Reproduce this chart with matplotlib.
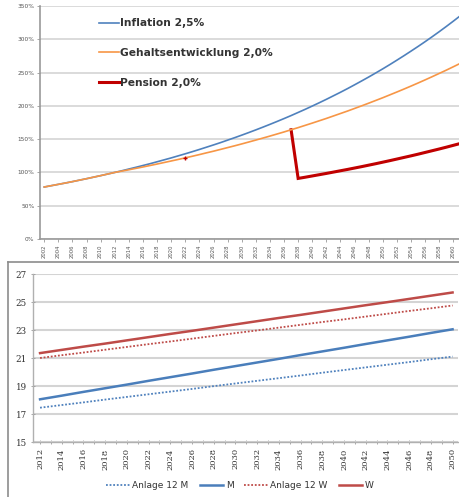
import matplotlib
matplotlib.use('Agg')
import matplotlib.pyplot as plt
from matplotlib.lines import Line2D

# --- top chart: index 2012 = 100 %
years_top = list(range(2002, 2063))
inflation = [78.1, 80.1, 82.1, 84.1, 86.2, 88.4, 90.6, 92.9, 95.2, 97.6,
             100.0, 102.5, 105.1, 107.7, 110.4, 113.1, 116.0, 118.9, 121.8, 124.9,
             128.0, 131.2, 134.5, 137.9, 141.3, 144.8, 148.5, 152.2, 156.0, 159.9,
             163.9, 168.0, 172.2, 176.5, 180.9, 185.4, 190.1, 194.8, 199.7, 204.7,
             209.8, 215.1, 220.4, 225.9, 231.6, 237.4, 243.3, 249.4, 255.6, 262.0,
             268.6, 275.3, 282.2, 289.2, 296.4, 303.8, 311.4, 319.2, 327.2, 335.4,
             343.7]
gehalt = [78.1, 80.1, 82.1, 84.1, 86.2, 88.4, 90.6, 92.9, 95.2, 97.6,
          100.0, 102.0, 104.0, 106.1, 108.2, 110.4, 112.6, 114.9, 117.2, 119.5,
          121.9, 124.3, 126.8, 129.4, 131.9, 134.6, 137.3, 140.0, 142.8, 145.7,
          148.6, 151.6, 154.6, 157.7, 160.8, 164.1, 167.3, 170.7, 174.1, 177.6,
          181.1, 184.8, 188.5, 192.2, 196.1, 200.0, 204.0, 208.1, 212.2, 216.5,
          220.8, 225.2, 229.7, 234.3, 239.0, 243.8, 248.7, 253.6, 258.7, 263.9,
          269.2]
years_pension = list(range(2037, 2063))
pension = [164.1, 91.0, 92.8, 94.7, 96.6, 98.5, 100.5, 102.5, 104.5, 106.6,
           108.7, 110.9, 113.1, 115.4, 117.7, 120.1, 122.5, 124.9, 127.4, 130.0,
           132.6, 135.2, 137.9, 140.7, 143.5, 146.4]
pension_mark_year = 2022
pension_mark_value = 121.9

# --- bottom chart
years_bot = list(range(2012, 2051, 2))
anlage_m = [17.45, 17.64, 17.83, 18.03, 18.22, 18.41, 18.60, 18.79, 18.99, 19.18,
            19.37, 19.56, 19.75, 19.95, 20.14, 20.33, 20.52, 20.71, 20.91, 21.10]
m_vals = [18.05, 18.31, 18.58, 18.84, 19.10, 19.37, 19.63, 19.89, 20.16, 20.42,
          20.68, 20.94, 21.21, 21.47, 21.73, 22.00, 22.26, 22.52, 22.79, 23.05]
anlage_w = [21.00, 21.20, 21.39, 21.59, 21.79, 21.99, 22.18, 22.38, 22.58, 22.78,
            22.97, 23.17, 23.37, 23.57, 23.76, 23.96, 24.16, 24.36, 24.55, 24.75]
w_vals = [21.35, 21.58, 21.81, 22.03, 22.26, 22.49, 22.72, 22.94, 23.17, 23.40,
          23.63, 23.86, 24.08, 24.31, 24.54, 24.77, 24.99, 25.22, 25.45, 25.68]

W, H = 460, 497
fig = plt.figure(figsize=(W / 100, H / 100), dpi=100)
plt.rcParams['font.family'] = ['DejaVu Sans']

# ---------------- top chart
ax1 = fig.add_axes([40 / W, 1 - 239 / H, 1 - 40 / W, (239 - 6) / H])
ax1.set_ylim(0, 350)
ax1.set_xlim(2001.4, 2060.95)
ax1.set_yticks(range(0, 351, 50))
ax1.set_yticklabels([f'{v}%' for v in range(0, 351, 50)], fontsize=4.2, color='#555555')
ax1.set_xticks(range(2002, 2061, 2))
ax1.set_xticklabels([str(y) for y in range(2002, 2061, 2)], rotation=90,
                    fontsize=3.8, color='#555555')
ax1.grid(axis='y', color='#d4d4d4', lw=1.2)
ax1.set_axisbelow(True)
for s in ['top', 'right']:
    ax1.spines[s].set_visible(False)
for s in ['left', 'bottom']:
    ax1.spines[s].set_color('#999999')
    ax1.spines[s].set_linewidth(1.2)
ax1.tick_params(axis='both', length=2, width=0.6, color='#999999', pad=2)

ax1.plot(years_pension, pension, color='#c00000', lw=2.2, solid_joinstyle='miter')
ax1.plot(years_top, inflation, color='#4f81bd', lw=1.2)
ax1.plot(years_top, gehalt, color='#f79646', lw=1.2)
ax1.plot([pension_mark_year], [pension_mark_value], marker='+', color='#c00000',
         ms=3.5, mew=1.0)

handles = [Line2D([], [], color='#4f81bd', lw=1.2),
           Line2D([], [], color='#f79646', lw=1.2),
           Line2D([], [], color='#c00000', lw=2.2)]
leg = ax1.legend(handles, ['Inflation 2,5%', 'Gehaltsentwicklung 2,0%', 'Pension 2,0%'],
                 loc='upper left', bbox_to_anchor=(94 / W, 1 - 13 / H),
                 bbox_transform=fig.transFigure, frameon=False, fontsize=7.7,
                 handlelength=1.8, handletextpad=0.1, labelspacing=1.85,
                 borderpad=0)
for t in leg.get_texts():
    t.set_color('#333333')
    t.set_fontweight('semibold')

# ---------------- bottom chart border
fig.add_artist(Line2D([8 / W, 1], [1 - 262 / H] * 2, color='#8c8c8c', lw=1.2,
                      transform=fig.transFigure))
fig.add_artist(Line2D([8 / W] * 2, [0, 1 - 262 / H], color='#8c8c8c', lw=1.2,
                      transform=fig.transFigure))

ax2 = fig.add_axes([33 / W, 1 - 442 / H, (458 - 33) / W, (442 - 274) / H])
ax2.set_ylim(15, 27)
ax2.set_xlim(2011.35, 2050.5)
ax2.set_yticks(range(15, 28, 2))
ax2.set_xticks(range(2012, 2051, 2))
ax2.set_xticks(range(2013, 2051, 2), minor=True)
ax2.set_yticklabels([str(v) for v in range(15, 28, 2)], fontsize=6.3,
                    family='DejaVu Serif', color='#333333')
ax2.set_xticklabels([str(y) for y in range(2012, 2051, 2)], rotation=90,
                    fontsize=6.0, family='DejaVu Serif', color='#333333')
ax2.grid(axis='y', color='#d4d4d4', lw=1.5)
ax2.set_axisbelow(True)
for s in ['top', 'right']:
    ax2.spines[s].set_visible(False)
for s in ['left', 'bottom']:
    ax2.spines[s].set_color('#b0b0b0')
    ax2.spines[s].set_linewidth(1.0)
ax2.tick_params(axis='both', which='both', direction='inout', length=3, width=0.6,
                color='#999999', pad=3)

ax2.plot(years_bot, anlage_m, color='#4f81bd', lw=1.3, ls=(0, (1, 1)))
ax2.plot(years_bot, m_vals, color='#4a7ebb', lw=1.8)
ax2.plot(years_bot, anlage_w, color='#be4b48', lw=1.3, ls=(0, (1, 1)))
ax2.plot(years_bot, w_vals, color='#be4b48', lw=1.8)

leg2 = ax2.legend(['Anlage 12 M', 'M', 'Anlage 12 W', 'W'], loc='center',
                  bbox_to_anchor=(240 / W, 1 - 486 / H), bbox_transform=fig.transFigure,
                  ncol=4, frameon=False, fontsize=6.5, handlelength=2.6,
                  handletextpad=0.3, columnspacing=1.2)
for t in leg2.get_texts():
    t.set_color('#333333')

fig.savefig('out.png', dpi=100)
